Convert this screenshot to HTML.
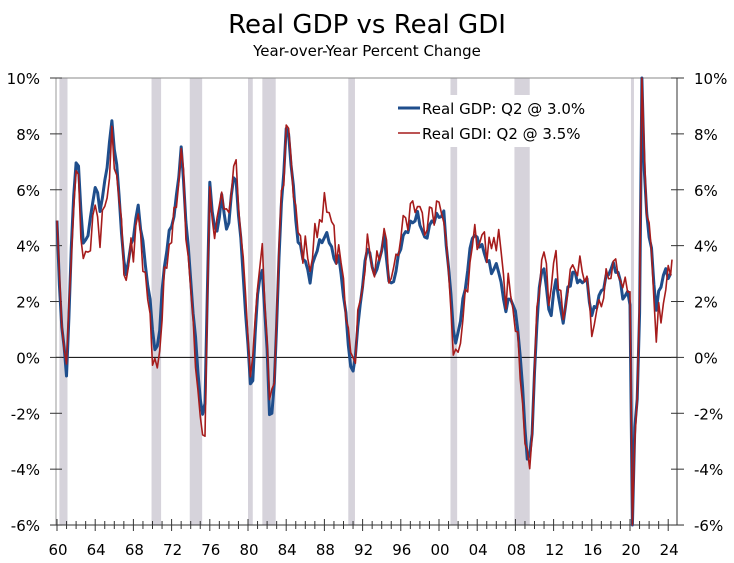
<!DOCTYPE html>
<html><head><meta charset="utf-8"><style>
body{margin:0;background:#fff;}
svg{display:block;font-family:"DejaVu Sans","Liberation Sans",sans-serif;}
</style></head><body>
<svg id="s" width="734" height="563" viewBox="0 0 734 563" xmlns="http://www.w3.org/2000/svg">
<text x="367" y="33" font-size="26" text-anchor="middle" fill="#000">Real GDP vs Real GDI</text>
<text x="367" y="56" font-size="15" text-anchor="middle" fill="#000">Year-over-Year Percent Change</text>
<g id="rec" fill="#d6d3db"></g>
<line x1="50" y1="78" x2="684" y2="78" stroke="#888" stroke-width="1"/>
<line x1="56" y1="78" x2="56" y2="525" stroke="#999" stroke-width="1"/>
<line x1="677" y1="78" x2="677" y2="525" stroke="#333" stroke-width="1"/>
<line x1="56" y1="357.4" x2="677" y2="357.4" stroke="#000" stroke-width="1"/>
<line x1="50" y1="525" x2="684" y2="525" stroke="#333" stroke-width="1"/>
<g id="ticks" stroke="#333" stroke-width="1"></g>
<g id="ylab" font-size="15" fill="#000"></g>
<g id="xlab" font-size="15" fill="#000" text-anchor="middle"></g>
<polyline id="gdp" fill="none" stroke="#1f4e8c" stroke-width="3" stroke-linejoin="round"/>
<polyline id="gdi" fill="none" stroke="#a61c1c" stroke-width="1.6" stroke-linejoin="round"/>
<rect x="390" y="95" width="235" height="52" fill="#fff"/>
<line x1="398" y1="108" x2="420" y2="108" stroke="#1f4e8c" stroke-width="3"/>
<text x="422" y="114" font-size="15">Real GDP: Q2 @ 3.0%</text>
<line x1="398" y1="133" x2="420" y2="133" stroke="#a61c1c" stroke-width="1.6"/>
<text x="422" y="139" font-size="15">Real GDI: Q2 @ 3.5%</text>
</svg>
<script>
var X0=57,PX=9.55,Y0=357.4,PY=27.94;
function px(t){return X0+(t-1960)*PX;}
function py(v){v=Math.max(-6,Math.min(10,v));return Y0-v*PY;}
var rec=[[1960.25,1961.1],[1969.9,1970.9],[1973.9,1975.2],[1980.0,1980.5],[1981.5,1982.9],[1990.5,1991.2],[2001.2,2001.9],[2007.9,2009.5],[2020.1,2020.4]];
var g=document.getElementById('rec'),h='';
rec.forEach(function(r){h+='<rect x="'+px(r[0])+'" y="78" width="'+Math.max(3,(r[1]-r[0])*PX)+'" height="447"/>';});
g.innerHTML=h;
var t='';
for(var y=1960;y<=2024;y++){var x=px(y);t+='<line x1="'+x+'" y1="'+(y%4==0?519:521)+'" x2="'+x+'" y2="'+(y%4==0?531:529)+'"/>';}
for(var v=-6;v<=10;v+=2){var yy=py(v);t+='<line x1="50" y1="'+yy+'" x2="62" y2="'+yy+'"/><line x1="671" y1="'+yy+'" x2="684" y2="'+yy+'"/>';}
document.getElementById('ticks').innerHTML=t;
var yl='';for(var v=-6;v<=10;v+=2){var yy=py(v)+6;yl+='<text x="40" y="'+yy+'" text-anchor="end">'+v+'%</text><text x="694" y="'+yy+'">'+v+'%</text>';}
document.getElementById('ylab').innerHTML=yl;
var xl='';for(var y=1960;y<=2024;y+=4){xl+='<text x="'+(px(y)+1)+'" y="555">'+String(y%100).padStart(2,'0')+'</text>';}
document.getElementById('xlab').innerHTML=xl;
var K=[[1960,4.9],[1960.3,2.0],[1961,-0.7],[1961.7,5.6],[1962.1,7.5],[1962.8,3.8],[1963.5,4.9],[1964,6.2],[1964.5,5.3],[1965,6.2],[1965.75,8.4],[1966.4,6.3],[1967.1,2.8],[1967.9,4.2],[1968.5,5.4],[1969.2,3.5],[1969.7,2.1],[1970.3,0.1],[1970.6,0.4],[1971.1,2.8],[1971.6,4.2],[1972.4,5.3],[1973,7.5],[1973.6,4.5],[1974.5,0.6],[1975.2,-2.3],[1975.5,-1.5],[1976,6.2],[1976.6,4.2],[1977.3,5.8],[1977.9,4.2],[1978.3,6.2],[1978.7,6.5],[1979.4,3.5],[1980,0.3],[1980.4,-1.5],[1981,2.4],[1981.5,3.1],[1981.9,1.0],[1982.3,-2.4],[1982.7,-1.5],[1983.4,4.9],[1984.1,8.6],[1984.7,6.2],[1985.2,4.2],[1985.9,3.5],[1986.5,2.8],[1987.1,3.8],[1987.7,4.2],[1988.4,4.4],[1989,3.5],[1989.6,3.5],[1990.3,1.3],[1990.9,-0.9],[1991.5,1.0],[1991.9,2.4],[1992.6,4.2],[1993,3.1],[1993.6,3.1],[1994.2,4.4],[1994.9,2.4],[1995.5,3.1],[1996.1,4.2],[1996.9,4.7],[1997.8,5.1],[1998.5,4.2],[1999.3,4.9],[2000.1,5.1],[2000.5,5.1],[2001.2,2.4],[2001.7,0.3],[2002.2,1.3],[2002.7,2.4],[2003.5,4.4],[2004.1,4.2],[2004.8,3.7],[2005.5,3.1],[2006.2,3.3],[2006.9,1.7],[2007.6,2.2],[2008.3,1.0],[2008.9,-1.9],[2009.3,-4.0],[2009.7,-3.0],[2010.4,2.4],[2011,3.3],[2011.6,1.3],[2012.3,2.9],[2012.9,1.1],[2013.5,2.4],[2014.1,3.1],[2014.8,2.6],[2015.4,2.9],[2016,1.5],[2016.6,2.0],[2017.5,2.8],[2018.1,3.3],[2018.7,3.1],[2019.4,2.0],[2019.8,2.4],[2020.0,2.0],[2020.25,-7.5],[2020.5,-2.5],[2020.75,-1.5],[2021.0,1.6],[2021.25,12],[2021.5,6.7],[2021.75,5.1],[2022.25,3.8],[2022.7,1.7],[2023.1,2.4],[2023.6,3.1],[2024.2,2.9],[2024.4,3.0]];
var D=[[1960,0],[1961,0.3],[1962,-0.5],[1965.5,-1],[1966.5,0],[1970.5,-0.8],[1973,0],[1975.2,-0.9],[1977,0.3],[1980.5,0.5],[1982.3,0.5],[1984,0],[1987,0.6],[1988.4,1.2],[1989.5,0.3],[1990.9,0.4],[1992,0],[1997,0.5],[2000,0.3],[2001.7,-0.7],[2003,-0.5],[2006.3,1.2],[2007.5,0.2],[2008.3,-0.7],[2009.3,-0.2],[2012.3,1.0],[2013,0],[2015,0.5],[2016,-0.5],[2019,0.2],[2020.1,0.5],[2020.25,-1],[2021.25,1],[2022.7,-0.7],[2023.3,-1.2],[2024.4,0.5]];
function interp(A,t){if(t<=A[0][0])return A[0][1];for(var i=1;i<A.length;i++){if(t<=A[i][0]){var a=A[i-1],b=A[i];return a[1]+(b[1]-a[1])*(t-a[0])/(b[0]-a[0]);}}return A[A.length-1][1];}
var p1='',p2='';
for(var q=0;q<=257;q++){var tt=1960+q*0.25;if(tt>2024.4)tt=2024.4;
var v=interp(K,tt)+0.15*Math.sin(q*2.3);var w=v+interp(D,tt)+0.35*Math.sin(q*1.7)+0.25*Math.sin(q*3.1);
if(tt>2020&&tt<2021.6){v=interp(K,tt);w=v+interp(D,tt);}
p1+=px(tt).toFixed(1)+','+py(v).toFixed(1)+' ';p2+=px(tt).toFixed(1)+','+py(w).toFixed(1)+' ';}
p2+=px(2024.4).toFixed(1)+','+py(3.5).toFixed(1);
document.getElementById('gdp').setAttribute('points',p1);
document.getElementById('gdi').setAttribute('points',p2);
</script>
</body></html>
